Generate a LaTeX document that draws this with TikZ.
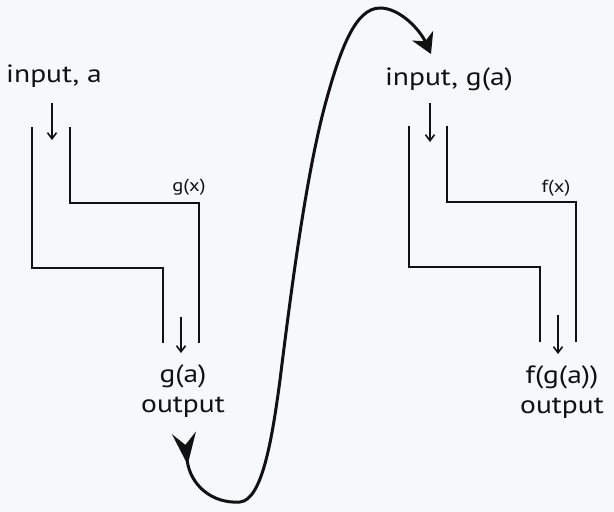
\documentclass[tikz,border=0pt]{standalone}
\usepackage{fontspec}
\setmainfont[FakeStretch=1.18]{PT Sans}
\usepackage{tikz}
\usetikzlibrary{arrows.meta,positioning,calc}
\definecolor{fnbg}{HTML}{F6F9F9}
\definecolor{fnink}{HTML}{111111}
\tikzset{
  wall/.style={draw=fnink, line width=2.2pt},
  lbl/.style={font=\fontsize{25}{28}\selectfont, inner sep=0pt, text=fnink},
  fnlbl/.style={font=\fontsize{17.5}{20}\selectfont, inner sep=0pt, text=fnink},
  arr/.style={-{Straight Barb[length=6pt,width=9pt]}, line width=1.6pt, fnink},
  loop/.style={{Stealth[reversed,length=32pt,width=24pt,inset=12pt]}-{Stealth[length=20pt,width=23pt,inset=6pt]},
    line width=3pt, fnink},
}

\begin{document}
\begin{tikzpicture}[x=1pt, y=-1pt]
        \fill[fnbg] (0,0) rectangle (614,512);
        \useasboundingbox (0,0) rectangle (614,512);
        % the two machines
        \foreach \dx/\dy in {0/0, 377/-1} {
          \begin{scope}[shift={(\dx,\dy)}]
            \draw[wall] (32,127) -- (32,268) -- (163,268) -- (163,343);
            \draw[wall] (70,127) -- (70,203) -- (199,203) -- (199,343);
          \end{scope}
        }
        % labels
        \node[lbl] (inA) at (54,76) {input, a};
        \node[fnlbl] (gx) at (189,187) {g(x)};
        \node[lbl] (ga) at (183,376) {g(a)};
        \node[lbl, below=9pt of ga] (outA) {output};
        \node[lbl] (inG) at (449,79) {input, g(a)};
        \node[fnlbl] (fx) at (556,188) {f(x)};
        \node[lbl] (fga) at (562,377) {f(g(a))};
        \node[lbl, below=9pt of fga] (outB) {output};
        % feeds
        \coordinate (aIn) at (52,140);
        \coordinate (gaOut) at (181,317);
        \coordinate (gIn) at (430,142);
        \coordinate (fgaOut) at (558,315);
        \draw[arr] (aIn |- 0,103) -- (aIn);
        \draw[arr] (gaOut) -- (gaOut |- 0,353);
        \draw[arr] (gIn |- 0,103) -- (gIn);
        \draw[arr] (fgaOut) -- (fgaOut |- 0,354);
        % carry g(a) over
        \coordinate (loopA) at (184,433);
        \coordinate (loopB) at (431,54);
        \draw[loop] (loopA) .. controls (190,485) and (212,504) .. (240,502)
          .. controls (262,500) and (272,440) .. (280,380)
          .. controls (290,300) and (305,180) .. (325,105)
          .. controls (340,50) and (355,8) .. (380,8)
          .. controls (400,8) and (420,30) .. (loopB);
      \end{tikzpicture}
\end{document}
